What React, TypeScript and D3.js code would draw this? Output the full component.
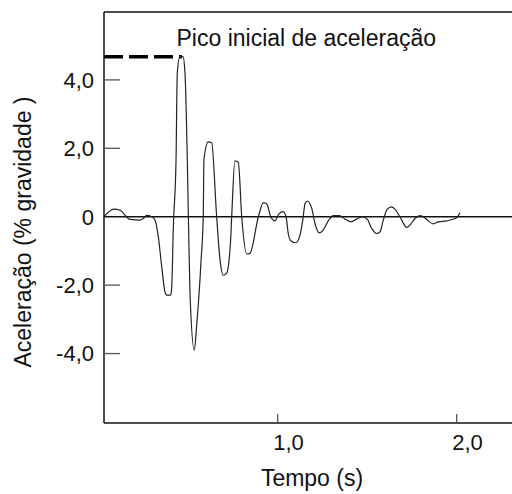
import React from "react";
import * as d3 from "d3";

const timeS = [
  0.030, 0.085, 0.119, 0.175, 0.231, 0.249, 0.268, 0.296, 0.315, 0.333, 0.352, 0.370, 0.380, 0.402, 0.408,
  0.417, 0.432, 0.439, 0.454, 0.471, 0.482, 0.495, 0.501, 0.510, 0.534, 0.547, 0.572, 0.584, 0.588, 0.612,
  0.631, 0.659, 0.678, 0.696, 0.715, 0.737, 0.743, 0.761, 0.780, 0.799, 0.827, 0.845, 0.892, 0.920, 0.939,
  0.961, 0.985, 1.003, 1.028, 1.046, 1.059, 1.073, 1.101, 1.125, 1.140, 1.153, 1.165, 1.190, 1.208, 1.232,
  1.246, 1.292, 1.311, 1.344, 1.376, 1.410, 1.441, 1.475, 1.501, 1.525, 1.553, 1.572, 1.590, 1.612, 1.637,
  1.655, 1.683, 1.721, 1.739, 1.767, 1.795, 1.813, 1.841, 1.869, 1.897, 1.944, 2.000, 2.018,
];
const accel = [
  0.0, 0.22, 0.19, -0.08, -0.10, -0.05, 0.04, 0.0, -0.10, -0.58, -1.46, -2.19, -2.29, -2.29, -2.05,
  -0.29, 1.66, 4.2, 4.68, 4.68, 4.2, 1.66, -0.02, -2.23, -3.9, -3.2, -1.27, 0.0, 1.68, 2.19,
  2.16, 0.0, -1.27, -1.71, -1.65, -0.68, 0.0, 1.63, 1.59, 0.0, -1.09, -1.07, 0.0, 0.41, 0.37,
  0.0, -0.12, 0.05, 0.15, 0.02, -0.49, -0.70, -0.76, -0.53, -0.10, 0.39, 0.46, 0.25, -0.19, -0.47,
  -0.44, -0.05, 0.03, 0.03, -0.07, -0.15, -0.07, 0.0, -0.08, -0.34, -0.49, -0.44, -0.10, 0.22, 0.29,
  0.22, 0.0, -0.31, -0.24, -0.05, 0.03, 0.0, -0.12, -0.21, -0.15, -0.12, -0.03, 0.12,
];

const xTicks = [1.0, 2.0];
const xTickLabels = ["1,0", "2,0"];
const yTicks = [4, 2, 0, -2, -4];
const yTickLabels = ["4,0", "2,0", "0", "-2,0", "-4,0"];
const peakValue = 4.68;
const peakTime = 0.465;
const annotation = "Pico inicial de aceleração";
const xTitle = "Tempo (s)";
const yTitle = "Aceleração (% gravidade )";

const W = 512;
const H = 494;
const FONT = "'Liberation Sans', Arial, Helvetica, sans-serif";

export default function App() {
  const left = 104;
  const right = 512;
  const top = 12;
  const bottom = 423;
  const x = d3.scaleLinear().domain([0.0296, 2.309]).range([left, right]);
  const y = d3.scaleLinear().domain([-6.03, 5.985]).range([bottom, top]);

  const data = timeS.map((t, i) => [t, accel[i]] as [number, number]);
  const line = d3
    .line<[number, number]>()
    .x((d) => x(d[0]))
    .y((d) => y(d[1]))
    .curve(d3.curveMonotoneX);

  return (
    <svg
      width={W}
      height={H}
      style={{ position: "absolute", left: 0, top: 0, background: "#fff" }}
      fontFamily={FONT}
    >
      <rect x={0} y={0} width={W} height={H} fill="#fff" />
      {/* frame lines */}
      <line x1={left} x2={right} y1={top} y2={top} stroke="#111" strokeWidth={1.3} />
      <line x1={left} x2={left} y1={top} y2={bottom} stroke="#111" strokeWidth={1.5} />
      <line x1={left} x2={right} y1={bottom} y2={bottom} stroke="#111" strokeWidth={1.5} />
      {/* zero line */}
      <line x1={left} x2={right} y1={y(0)} y2={y(0)} stroke="#111" strokeWidth={1.3} />

      {/* y ticks */}
      {yTicks.map((v, i) => (
        <g key={"y" + i}>
          {v !== 0 && (
            <line x1={left} x2={left + 16} y1={y(v)} y2={y(v)} stroke="#555" strokeWidth={1.3} />
          )}
          <text
            x={94}
            y={y(v)}
            dy="0.36em"
            textAnchor="end"
            fontSize={22}
            fill="#111"
          >
            {yTickLabels[i]}
          </text>
        </g>
      ))}

      {/* x ticks */}
      {xTicks.map((v, i) => (
        <g key={"x" + i}>
          <line x1={x(v)} x2={x(v)} y1={bottom} y2={bottom - 9} stroke="#555" strokeWidth={1.3} />
          <text x={x(v) + 10.8} y={450} textAnchor="middle" fontSize={22} fill="#111">
            {xTickLabels[i]}
          </text>
        </g>
      ))}

      {/* dashed peak line */}
      <line
        x1={left}
        x2={x(peakTime)}
        y1={y(peakValue)}
        y2={y(peakValue)}
        stroke="#000"
        strokeWidth={3.5}
        strokeDasharray="19 6"
      />

      {/* waveform */}
      <path d={line(data) || ""} fill="none" stroke="#222" strokeWidth={1.2} />

      {/* annotation */}
      <text x={176.5} y={45.5} fontSize={23} fill="#111">
        {annotation}
      </text>

      {/* axis titles */}
      <text x={312} y={486} textAnchor="middle" fontSize={23} fill="#111">
        {xTitle}
      </text>
      <text
        transform={`translate(31, 232) rotate(-90)`}
        textAnchor="middle"
        fontSize={23}
        fill="#111"
      >
        {yTitle}
      </text>
    </svg>
  );
}
